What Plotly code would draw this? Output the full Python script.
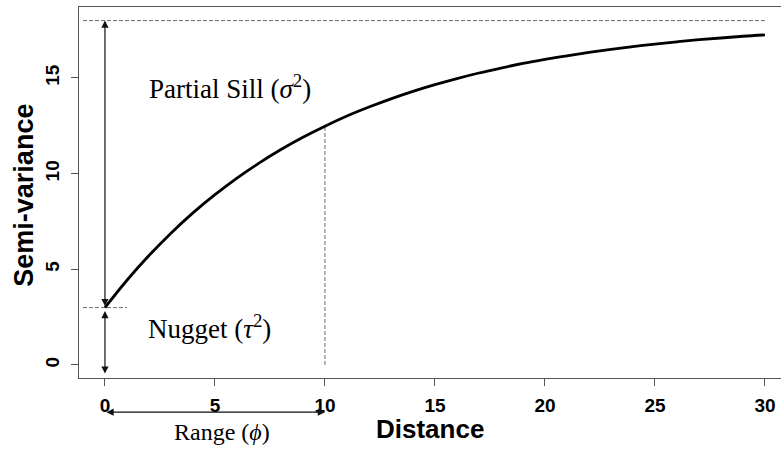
import plotly.graph_objects as go

# Data (exponential-type semivariogram)
distance = list(range(0, 31))
semivariance = [3.00, 4.43, 5.72, 6.89, 7.95, 8.90, 9.77, 10.55, 11.26, 11.90,
                12.48, 13.01, 13.48, 13.91, 14.30, 14.65, 14.97, 15.26, 15.52, 15.76,
                15.97, 16.16, 16.34, 16.50, 16.64, 16.77, 16.89, 17.00, 17.09, 17.18,
                17.25]
nugget = 3.0
sill = 18.0
range_phi = 10.0
range_value = 12.48
x_ticks = [0, 5, 10, 15, 20, 25, 30]
y_ticks = [0, 5, 10, 15]

GRAY = "#6a6a6a"
AX = "#555555"
SERIF = "Liberation Serif, Times New Roman, serif"
SANS = "Liberation Sans, Arial, sans-serif"

fig = go.Figure()

# reference dashed lines
fig.add_trace(go.Scatter(x=[-1, 30], y=[sill, sill], mode="lines",
                         line=dict(color=GRAY, width=1, dash="4px,2px"),
                         hoverinfo="skip", showlegend=False))
fig.add_trace(go.Scatter(x=[-1, 1], y=[nugget, nugget], mode="lines",
                         line=dict(color=GRAY, width=1, dash="4px,2px"),
                         hoverinfo="skip", showlegend=False))
fig.add_trace(go.Scatter(x=[range_phi, range_phi], y=[0, range_value], mode="lines",
                         line=dict(color=GRAY, width=1, dash="4px,2px"),
                         hoverinfo="skip", showlegend=False))

# the curve
fig.add_trace(go.Scatter(x=distance, y=semivariance, mode="lines",
                         line=dict(color="black", width=2.8, shape="spline"),
                         showlegend=False))

arrow_common = dict(text="", showarrow=True, arrowhead=2, arrowsize=1.2,
                    arrowwidth=1.2, arrowcolor="#111111", arrowside="end+start",
                    standoff=0, startstandoff=0)

# partial sill arrow
fig.add_annotation(x=0, y=sill, ax=0, ay=nugget, xref="x", yref="y",
                   axref="x", ayref="y", **arrow_common)
# nugget arrow
fig.add_annotation(x=0, y=-0.45, ax=0, ay=nugget - 0.1, xref="x", yref="y",
                   axref="x", ayref="y", **arrow_common)
# range arrow (below the axis)
fig.add_annotation(x=range_phi, y=-0.092, ax=0, ay=0, xref="x", yref="paper",
                   axref="x", ayref="pixel", **arrow_common)

# labels
fig.add_annotation(x=5.7, y=14.55, xref="x", yref="y", showarrow=False,
                   text="Partial Sill (<i>σ</i><sup>2</sup>)",
                   font=dict(family=SERIF, size=27, color="black"))
fig.add_annotation(x=4.75, y=2.0, xref="x", yref="y", showarrow=False,
                   text="Nugget (<i>τ</i><sup>2</sup>)",
                   font=dict(family=SERIF, size=27, color="black"))
fig.add_annotation(x=5.3, y=-0.145, xref="x", yref="paper", showarrow=False,
                   yanchor="middle", text="Range (<i>ϕ</i>)",
                   font=dict(family=SERIF, size=24, color="black"))

# axis titles
fig.add_annotation(x=0.5, y=-0.137, xref="paper", yref="paper", showarrow=False,
                   xanchor="center", yanchor="middle", text="Distance",
                   font=dict(family=SANS, size=26, color="black", weight="bold"))
fig.add_annotation(x=-0.0775, y=0.493, xref="paper", yref="paper", showarrow=False,
                   xanchor="center", yanchor="middle", textangle=-90, text="Semi-variance",
                   font=dict(family=SANS, size=27, color="black", weight="bold"))

fig.update_layout(
    width=781, height=450,
    margin=dict(l=79, r=0, t=7, b=72),
    paper_bgcolor="white", plot_bgcolor="white",
    xaxis=dict(range=[-1.18, 30.73], tickvals=x_ticks, ticktext=[str(v) for v in x_ticks],
               showgrid=False, zeroline=False, showline=True, linecolor=AX, linewidth=1.2,
               mirror=True, ticks="outside", ticklen=7, tickcolor=AX, tickwidth=1.2,
               automargin=False,
               tickfont=dict(family=SANS, size=19, color="black", weight="bold"),
               ticklabelstandoff=3),
    yaxis=dict(range=[-0.68, 18.71], tickvals=y_ticks, ticktext=[str(v) for v in y_ticks],
               showgrid=False, zeroline=False, showline=True, linecolor=AX, linewidth=1.2,
               ticks="outside", ticklen=7, tickcolor=AX, tickwidth=1.2, tickangle=-90,
               automargin=False,
               tickfont=dict(family=SANS, size=19, color="black", weight="bold"),
               ticklabelstandoff=4),
)

fig.write_html("out.html")
